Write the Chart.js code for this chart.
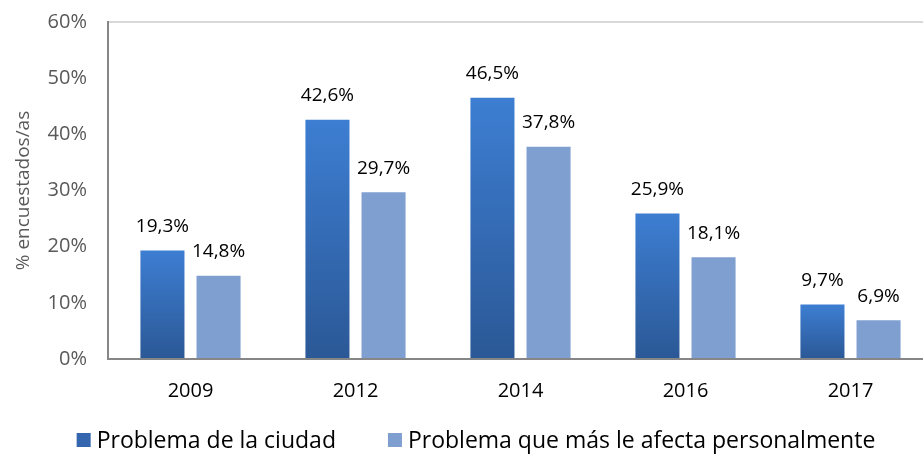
<!DOCTYPE html>
<html>
<head>
<meta charset="utf-8">
<script src="https://cdn.jsdelivr.net/npm/chart.js@4/dist/chart.umd.min.js"></script>
<style>
  html, body { margin: 0; padding: 0; overflow: hidden; background: #fff; }
  #wrap { width: 923px; height: 455px; overflow: hidden; }
</style>
</head>
<body>
<div id="wrap"><canvas id="myChart" width="935" height="455"></canvas></div>
<script>
const years = ['2009', '2012', '2014', '2016', '2017'];
const ciudad = [19.3, 42.6, 46.5, 25.9, 9.7];
const personal = [14.8, 29.7, 37.8, 18.1, 6.9];
const yTicks = [0, 10, 20, 30, 40, 50, 60];

const ctx = document.getElementById('myChart');
const fontFam = "'Open Sans', 'Noto Sans', sans-serif";
const legendColors = ['#3466b0', '#7f9fd0'];

// each bar gets its own top-to-bottom gradient
function gradFill(context) {
    const chart = context.chart;
    const y = chart.scales.y;
    if (!chart.chartArea || !y || context.parsed === undefined) return '#3570c0';
    const top = y.getPixelForValue(context.parsed.y);
    const bottom = y.getPixelForValue(0);
    if (!isFinite(top) || !isFinite(bottom) || bottom - top < 1) return '#3570c0';
    const g = chart.ctx.createLinearGradient(0, top, 0, bottom);
    g.addColorStop(0, '#3d7ed2');
    g.addColorStop(1, '#2b5896');
    return g;
}

const valueLabels = {
    id: 'valueLabels',
    afterDatasetsDraw(chart) {
        const c = chart.ctx;
        c.save();
        c.font = "19px " + fontFam;
        c.fillStyle = '#000';
        c.textAlign = 'center';
        c.textBaseline = 'middle';
        chart.data.datasets.forEach((ds, i) => {
            chart.getDatasetMeta(i).data.forEach((bar, j) => {
                const txt = ds.data[j].toFixed(1).replace('.', ',') + '%';
                c.fillText(txt, bar.x, bar.y - 24);
            });
        });
        c.restore();
    }
};

// legend drawn by hand so the gap between items can differ from its height
const bottomLegend = {
    id: 'bottomLegend',
    afterDraw(chart) {
        const c = chart.ctx;
        c.save();
        c.font = "23px " + fontFam;
        c.textBaseline = 'middle';
        const box = 14, gapBox = 6, gapItem = 52, y = 440;
        const items = chart.data.datasets.map(d => d.label);
        const widths = items.map(t => box + gapBox + c.measureText(t).width);
        const total = widths.reduce((a, b) => a + b, 0) + gapItem * (items.length - 1);
        let x = 476 - total / 2;
        items.forEach((t, i) => {
            c.fillStyle = legendColors[i];
            c.fillRect(x, y - box / 2, box, box);
            c.fillStyle = '#000';
            c.fillText(t, x + box + gapBox, y + 1);
            x += widths[i] + gapItem;
        });
        c.restore();
    }
};

Chart.defaults.font.family = fontFam;
new Chart(ctx, {
    type: 'bar',
    data: {
        labels: years,
        datasets: [{
            label: 'Problema de la ciudad',
            data: ciudad,
            backgroundColor: gradFill,
            categoryPercentage: 0.68,
            barPercentage: 0.785
        }, {
            label: 'Problema que más le afecta personalmente',
            data: personal,
            backgroundColor: '#7f9fd0',
            categoryPercentage: 0.68,
            barPercentage: 0.785
        }]
    },
    options: {
        responsive: false,
        animation: false,
        layout: {
            padding: { left: 12, right: 2, top: 0, bottom: 50 }
        },
        scales: {
            x: {
                grid: { display: false },
                border: { color: '#868686', width: 2 },
                ticks: { color: '#000', font: { size: 20 }, padding: 12 },
                afterFit(axis) { axis.height = 46; }
            },
            y: {
                min: 0,
                max: 60,
                afterBuildTicks(axis) {
                    axis.ticks = yTicks.map(v => ({ value: v }));
                },
                afterFit(axis) { axis.width = 96; },
                grid: {
                    drawTicks: false,
                    color: c => c.tick && c.tick.value === 60 ? '#d9d9d9' : 'rgba(0,0,0,0)',
                    lineWidth: 2
                },
                border: { color: '#868686', width: 2 },
                ticks: {
                    color: '#595959',
                    font: { size: 20, lineHeight: 0.1 },
                    padding: 21,
                    callback: v => v + '%'
                },
                title: {
                    display: true,
                    text: '% encuestados/as',
                    color: '#595959',
                    font: { size: 19 },
                    padding: { top: 0, bottom: 11 }
                }
            }
        },
        plugins: {
            legend: { display: false },
            tooltip: { enabled: false }
        }
    },
    plugins: [valueLabels, bottomLegend]
});
</script>
</body>
</html>
